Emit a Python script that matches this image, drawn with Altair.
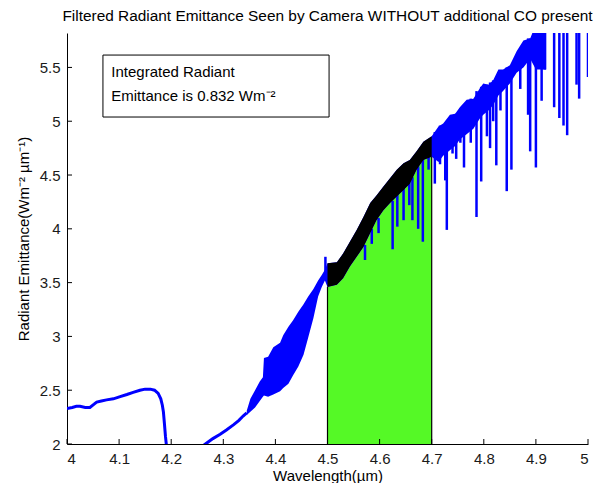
import altair as alt
import pandas as pd

# ---- smooth parts of the blue spectrum ----
seg1_wl = [4.000, 4.010, 4.018, 4.025, 4.035, 4.044, 4.052, 4.057, 4.066, 4.076, 4.089,
           4.102, 4.115, 4.127, 4.140, 4.150, 4.160, 4.168, 4.175, 4.180, 4.183, 4.185,
           4.187, 4.189, 4.191, 4.193]
seg1_val = [2.33, 2.34, 2.35, 2.35, 2.34, 2.34, 2.37, 2.39, 2.40, 2.41, 2.42,
            2.44, 2.46, 2.48, 2.50, 2.51, 2.51, 2.50, 2.47, 2.42, 2.36, 2.30,
            2.19, 2.07, 1.98, 1.90]
seg2_wl = [4.263, 4.280, 4.294, 4.306, 4.320, 4.330, 4.338, 4.345]
seg2_val = [1.99, 2.05, 2.09, 2.13, 2.18, 2.22, 2.26, 2.29]

# ---- dense (band) part of the blue spectrum: lower / upper envelope ----
band_wl = [4.345, 4.352, 4.361, 4.370, 4.376, 4.378, 4.386, 4.396, 4.409, 4.415,
           4.425, 4.434, 4.444, 4.454, 4.463, 4.473, 4.482, 4.489, 4.495,
           4.5, 4.518, 4.530, 4.543, 4.556, 4.569, 4.582, 4.594, 4.607, 4.620,
           4.633, 4.646, 4.658, 4.671, 4.684, 4.7,
           4.713, 4.722, 4.735, 4.745, 4.754, 4.767, 4.780, 4.793, 4.799, 4.809,
           4.818, 4.828, 4.837, 4.850, 4.863, 4.876, 4.889, 4.900, 4.920]
band_lo = [2.27, 2.30, 2.34, 2.40, 2.44, 2.45, 2.44, 2.46, 2.49, 2.52,
           2.56, 2.64, 2.72, 2.83, 2.99, 3.17, 3.37, 3.46, 3.52,
           3.46, 3.48, 3.54, 3.65, 3.74, 3.83, 3.96, 4.08, 4.17, 4.24,
           4.30, 4.36, 4.42, 4.55, 4.64, 4.67,
           4.62, 4.68, 4.73, 4.77, 4.83, 4.88, 4.93, 5.03, 5.06, 5.10,
           5.15, 5.24, 5.28, 5.35, 5.45, 5.50, 5.58, 5.48, 5.48]
band_hi = [2.31, 2.42, 2.50, 2.58, 2.62, 2.80, 2.81, 2.90, 2.94, 3.01,
           3.09, 3.15, 3.23, 3.30, 3.37, 3.44, 3.52, 3.57, 3.62,
           3.68, 3.69, 3.77, 3.88, 3.99, 4.11, 4.24, 4.31, 4.39, 4.47,
           4.55, 4.61, 4.64, 4.72, 4.81, 4.86,
           4.95, 4.98, 5.06, 5.07, 5.13, 5.20, 5.21, 5.31, 5.35, 5.34,
           5.38, 5.48, 5.48, 5.52, 5.65, 5.75, 5.77, 5.90, 5.90]

# ---- absorption lines (and one spike) of the blue spectrum ----
dip_wl = [4.496, 4.549, 4.572, 4.585, 4.598, 4.625, 4.634, 4.646, 4.657, 4.663,
          4.674, 4.683, 4.694,
          4.706, 4.716, 4.726, 4.729, 4.740, 4.747, 4.755, 4.762, 4.775, 4.786,
          4.795, 4.806, 4.812, 4.818,
          4.824, 4.832, 4.844, 4.853, 4.870, 4.885, 4.889, 4.900, 4.911, 4.917,
          4.935, 4.945, 4.953, 4.960, 4.978, 4.983, 5.000]
dip_bottom = [3.74, 3.78, 3.71, 3.86, 3.96, 3.81, 4.02, 4.08, 4.22, 4.08,
              4.00, 3.88, 4.55,
              4.42, 4.60, 4.45, 3.99, 4.70, 4.65, 4.80, 4.57, 4.80, 4.11,
              4.44, 4.86, 4.75, 5.00,
              4.59, 5.10, 4.35, 4.55, 5.30, 5.06, 4.72, 4.57, 5.19, 5.48,
              5.13, 5.03, 4.96, 4.87, 5.34, 5.21, 5.41]
dip_top = [3.55, 3.90, 3.85, 4.00, 4.10, 4.26, 4.32, 4.38, 4.44, 4.48,
           4.58, 4.66, 4.70,
           4.90, 4.96, 4.98, 4.98, 5.05, 5.07, 5.12, 5.15, 5.21, 5.28,
           5.32, 5.34, 5.36, 5.38,
           5.40, 5.45, 5.50, 5.52, 5.68, 5.77, 5.77, 5.90, 5.90, 5.90,
           5.90, 5.90, 5.90, 5.90, 5.90, 5.90, 5.90]

x_ticks = [4.0, 4.1, 4.2, 4.3, 4.4, 4.5, 4.6, 4.7, 4.8, 4.9, 5.0]
y_ticks = [2.0, 2.5, 3.0, 3.5, 4.0, 4.5, 5.0, 5.5]

title_text = "Filtered Radiant Emittance Seen by Camera WITHOUT additional CO present"
note_lines = ["Integrated Radiant", "Emittance is 0.832 Wm\u207b\u00b2"]
note_box = {"x": 4.069, "x2": 4.503, "y": 5.615, "y2": 5.039}
note_x = 4.085
note_y = [5.41, 5.185]

FONT = "Liberation Sans"
W, H = 521, 411
XMIN, XMAX, YMIN, YMAX = 4.0, 5.0, 2.0, 5.82

# ---- tables ----
seg_df = pd.DataFrame({
    "wl": seg1_wl + seg2_wl,
    "val": seg1_val + seg2_val,
    "seg": ["a"] * len(seg1_wl) + ["b"] * len(seg2_wl),
})
band_df = pd.DataFrame({"wl": band_wl, "lo": band_lo, "hi": band_hi})
dip_df = pd.DataFrame({"wl": dip_wl, "bottom": dip_bottom, "top": dip_top})
xt_df = pd.DataFrame({"t": x_ticks})
yt_df = pd.DataFrame({"t": y_ticks})
box_df = pd.DataFrame([note_box])
note_df = pd.DataFrame({"x": [note_x] * 2, "y": note_y, "txt": note_lines})

xs = alt.Scale(domain=[XMIN, XMAX], nice=False, zero=False)
ys = alt.Scale(domain=[YMIN, YMAX], nice=False, zero=False)

x_axis = alt.Axis(values=x_ticks, format="~g", title="Wavelength(\u00b5m)", grid=False,
                  ticks=False, labelPadding=7, titlePadding=2)
y_axis = alt.Axis(values=y_ticks, format="~g", title="Radiant Emittance(Wm\u207b\u00b2 \u00b5m\u207b\u00b9)",
                  grid=False, ticks=False, labelPadding=7, titlePadding=8)


def X(field):
    return alt.X(field, type="quantitative", scale=xs, axis=x_axis)


def Y(field):
    return alt.Y(field, type="quantitative", scale=ys, axis=y_axis)


BLUE = "#0000ff"
GREEN = "#55f926"
in_filter = (alt.datum.wl >= 4.5) & (alt.datum.wl <= 4.7)

line = alt.Chart(seg_df).mark_line(color=BLUE, strokeWidth=3, clip=True).encode(
    x=X("wl"), y=Y("val"), detail="seg:N",
)

green = alt.Chart(band_df).transform_filter(in_filter).mark_area(
    color=GREEN, opacity=1, clip=True
).encode(x=X("wl"), y=Y("lo"), y2=alt.datum(YMIN))

blue_band = alt.Chart(band_df).mark_area(color=BLUE, opacity=1, clip=True).encode(
    x=X("wl"), y=Y("lo"), y2="hi:Q",
)

dips = alt.Chart(dip_df).mark_rule(color=BLUE, strokeWidth=2.5, clip=True).encode(
    x=X("wl"), y=Y("bottom"), y2="top:Q",
)

black_band = alt.Chart(band_df).transform_filter(in_filter).mark_area(
    color="black", opacity=1, clip=True
).encode(x=X("wl"), y=Y("lo"), y2="hi:Q")

edges = alt.Chart(band_df).transform_filter(
    alt.FieldOneOfPredicate(field="wl", oneOf=[4.5, 4.7])
).mark_rule(color="black", strokeWidth=1.2).encode(
    x=X("wl"), y=Y("lo"), y2=alt.datum(YMIN),
)

box = alt.Chart(box_df).mark_rect(fill="white", stroke="black", strokeWidth=1).encode(
    x=X("x"), x2="x2:Q", y=Y("y"), y2="y2:Q",
)

note = alt.Chart(note_df).mark_text(align="left", baseline="alphabetic", font=FONT,
                                    fontSize=15, color="black").encode(
    x=X("x"), y=Y("y"), text="txt:N",
)

xticks = alt.Chart(xt_df).mark_rule(color="black", strokeWidth=1).encode(
    x=X("t"), y=alt.value(H), y2=alt.value(H - 5),
)
yticks = alt.Chart(yt_df).mark_rule(color="black", strokeWidth=1).encode(
    y=Y("t"), x=alt.value(0), x2=alt.value(5),
)

chart = alt.layer(
    line, green, blue_band, dips, black_band, edges, box, note, xticks, yticks
).properties(
    width=W, height=H,
    title=alt.TitleParams(text=title_text, font=FONT, fontSize=15.4, fontWeight="normal",
                          anchor="middle", color="black", offset=9),
    autosize=alt.AutoSizeParams(type="none"),
    padding={"left": 59, "top": 25, "right": 8, "bottom": 39},
).configure_view(stroke=None).configure_axis(
    domainColor="black", domainWidth=1, labelFont=FONT, labelFontSize=15,
    labelColor="#1a1a1a", titleFont=FONT, titleFontSize=15, titleFontWeight="normal",
    titleColor="black",
)

chart.save("out.html", embed_options={"renderer": "svg", "actions": False})
